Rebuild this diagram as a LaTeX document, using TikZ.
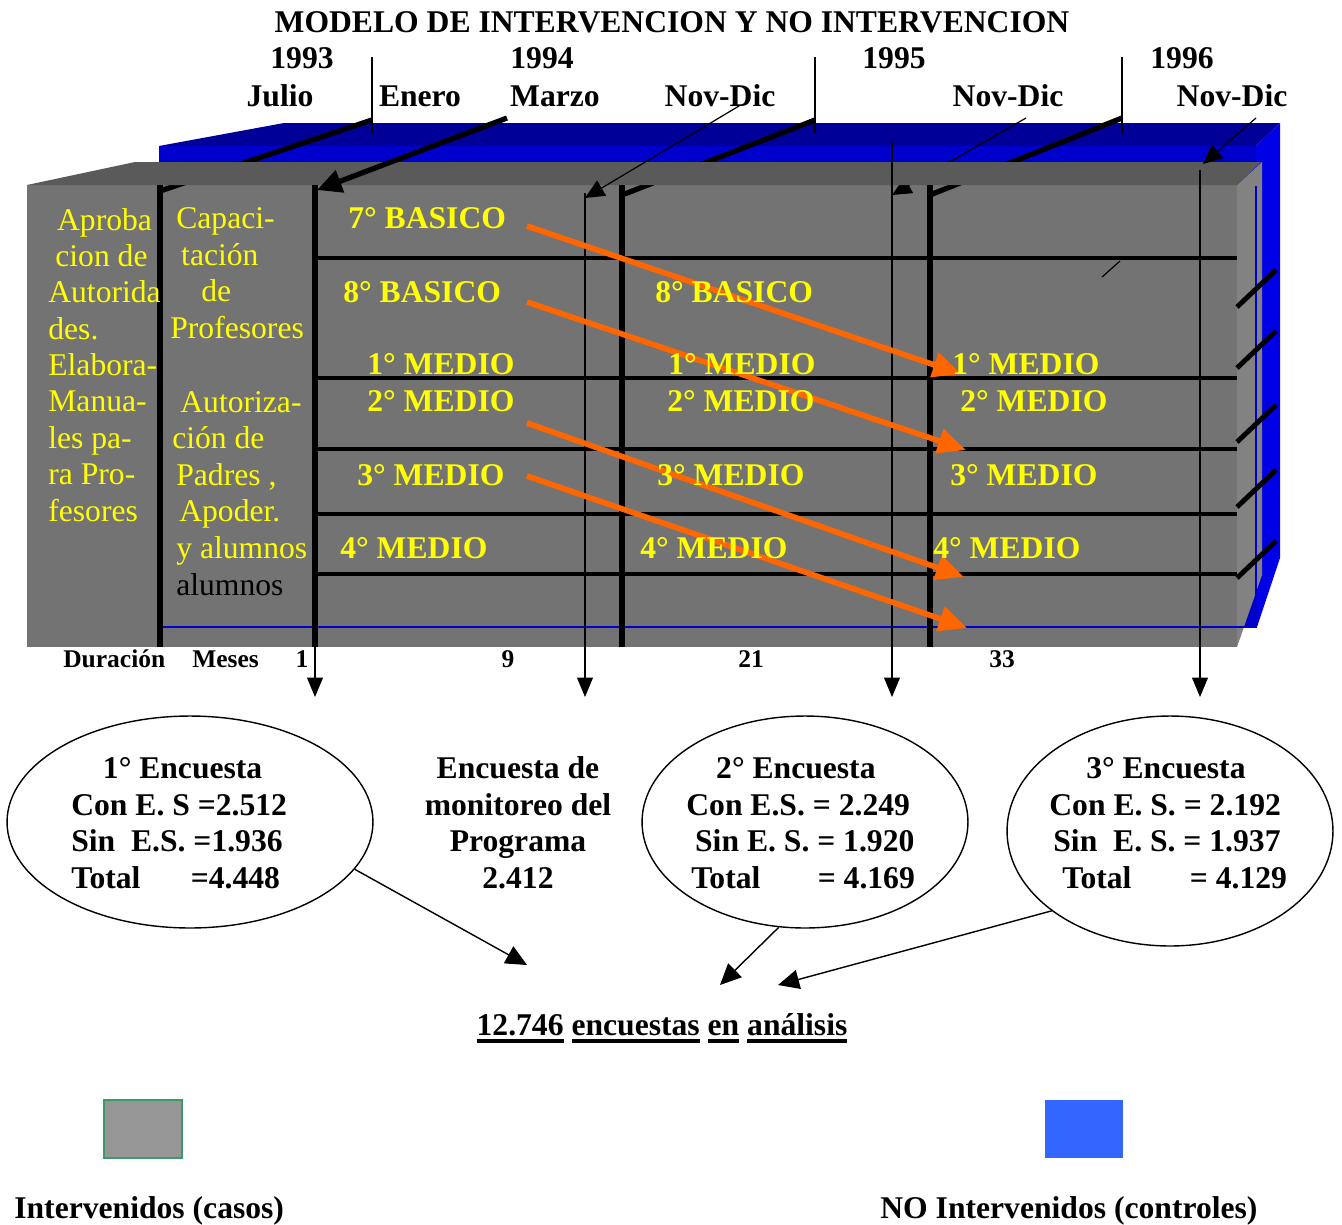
\documentclass[tikz,border=0pt]{standalone}
\usepackage{fontspec}
\setmainfont{Liberation Serif}
\usetikzlibrary{arrows.meta,shapes.geometric,positioning}
\definecolor{grisfrente}{HTML}{737373}
\definecolor{gristecho}{HTML}{5A5A5A}
\definecolor{grislado}{HTML}{828282}
\definecolor{azuloscuro}{HTML}{000099}
\definecolor{azulfrente}{HTML}{0000CC}
\definecolor{azullado}{HTML}{0000E6}
\definecolor{amarillo}{HTML}{FFFF00}
\definecolor{naranjo}{HTML}{FF6600}
\definecolor{grisleyenda}{HTML}{969696}
\definecolor{verdeborde}{HTML}{3C9A64}
\definecolor{azulleyenda}{HTML}{3366FF}
\newcommand{\letragrande}{\fontsize{18}{20.7}\selectfont}
\newcommand{\letrachica}{\fontsize{14.5}{17}\selectfont}
\newcommand{\subrayar}[1]{\setbox0=\hbox{#1}\rlap{\rule[-4.6pt]{\wd0}{2.3pt}}\box0\relax}

\begin{document}
\begin{tikzpicture}[x=0.02cm, y=-0.02cm,
    font=\letragrande\bfseries,
    lbl/.style={inner sep=0pt, anchor=base},
    curso/.style={inner sep=0pt, anchor=base west, text=amarillo},
    columna/.style={inner sep=0pt, anchor=base west, align=left, text=amarillo, font=\letragrande\mdseries},
    encuesta/.style={ellipse, draw, line width=0.8pt, inner sep=0pt},
    datos/.style={inner sep=0pt, anchor=base west, align=left},
    divisor/.style={line width=3pt},
    fila/.style={line width=2.8pt},
    hito/.style={line width=0.7pt},
    traslado/.style={naranjo, line width=3.2pt, -{Triangle[length=16pt,width=14pt]}},
    caida/.style={line width=0.7pt, -{Triangle[length=11pt,width=9pt]}},
    fecha/.style={line width=0.7pt, -{Triangle[length=11pt,width=10pt]}},
    suma/.style={line width=0.8pt, -{Triangle[length=12pt,width=11pt]}}
  ]
    \useasboundingbox (0,0) rectangle (1342,1224);
    % Caja de controles (azul, al fondo)
    \fill[azuloscuro] (159,146) -- (284,123) -- (1280,123) -- (1256,146) -- cycle;
    \fill[azulfrente] (159,146) rectangle (1256,627);
    \fill[azullado] (1256,146) -- (1280,123) -- (1280,558) -- (1257,627) -- cycle;
    % Caja de casos (gris)
    \fill[grisfrente] (27,185) rectangle (1237,647);
    \fill[grislado] (1237,185) -- (1262,162) -- (1262,575) -- (1237,647) -- cycle;
    % Marcas del calendario
    \coordinate (enero) at (372,120);   \coordinate (pieEnero) at (160,191);
    \coordinate (anio95) at (815,120);  \coordinate (pie95) at (622,195);
    \coordinate (anio96) at (1122,118); \coordinate (pie96) at (930,195);
    \coordinate (nov95) at (1026,118);  \coordinate (cae95) at (892,195);
    \draw[divisor] (enero) -- (pieEnero);
    \draw[divisor] (anio95) -- (pie95);
    \draw[divisor] (anio96) -- (pie96);
    \draw[fecha] (nov95) -- (cae95);
    % Techo gris
    \fill[gristecho] (27,185) -- (135,162) -- (1261,162) -- (1237,185) -- cycle;
    \draw[azulfrente, line width=1.3pt] (159,627) -- (1256,627) -- (1256,186);
    % Grilla de cursos
    \foreach \x in {160,315,622,930}
      \draw[divisor] (\x,185) -- (\x,647);
    \foreach \y in {258,378,449,514,574}
      \draw[fila] (315,\y) -- (1237,\y);
    \foreach \y in {307,368,442,507,578}
      \draw[fila] (1237,\y) -- ++(39,-37);
    \draw[hito] (1102,277) -- (1120,261);
    % Rayas de los anios
    \coordinate (rEnero) at (372,57);  \coordinate (rEneroB) at (372,133);
    \coordinate (r95) at (815,57);     \coordinate (r95B) at (815,133);
    \coordinate (r96) at (1122,57);    \coordinate (r96B) at (1122,133);
    \draw[hito] (rEnero) -- (rEneroB);
    \draw[hito] (r95) -- (r95B);
    \draw[hito] (r96) -- (r96B);
    % Flechas de fechas
    \coordinate (marzo) at (507,118);  \coordinate (llegaMarzo) at (317,190);
    \coordinate (nov94) at (739,106);  \coordinate (cae94) at (585,198);
    \coordinate (nov96) at (1256,118); \coordinate (cae96) at (1203,164);
    \draw[divisor, -{Triangle[length=14pt,width=13pt]}] (marzo) -- (llegaMarzo);
    \draw[fecha] (nov94) -- (cae94);
    \draw[fecha] (nov96) -- (cae96);
    % Flechas hacia las encuestas
    \coordinate (e1) at (315,645);   \coordinate (e1b) at (315,697);
    \coordinate (e2) at (585,193);   \coordinate (e2b) at (585,697);
    \coordinate (e3) at (892,142);   \coordinate (e3b) at (892,697);
    \coordinate (e4) at (1200,170);  \coordinate (e4b) at (1200,697);
    \draw[caida] (e1) -- (e1b);
    \draw[caida] (e2) -- (e2b);
    \draw[caida] (e3) -- (e3b);
    \draw[caida] (e4) -- (e4b);
    % Traslado de cohortes
    \coordinate (sale7) at (527,226); \coordinate (llega7) at (961,374);
    \coordinate (sale8) at (527,302); \coordinate (llega8) at (966,450);
    \coordinate (sale2) at (527,423); \coordinate (llega2) at (964,577);
    \coordinate (sale3) at (527,476); \coordinate (llega3) at (967,628);
    \draw[traslado] (sale7) -- (llega7);
    \draw[traslado] (sale8) -- (llega8);
    \draw[traslado] (sale2) -- (llega2);
    \draw[traslado] (sale3) -- (llega3);
    % Titulo y calendario
    \node[lbl] (titulo) at (672,32) {MODELO DE INTERVENCION Y NO INTERVENCION};
    \node[lbl] (a93) at (302,68) {1993};
    \node[lbl] (a94) at (542,68) {1994};
    \node[lbl] (a95) at (894,68) {1995};
    \node[lbl] (a96) at (1182,68) {1996};
    \node[lbl] (julio) at (280,106) {Julio};
    \node[lbl] (mEnero) at (420,106) {Enero};
    \node[lbl] (mMarzo) at (555,106) {Marzo};
    \node[lbl] (mNov94) at (720,106) {Nov-Dic};
    \node[lbl] (mNov95) at (1008,106) {Nov-Dic};
    \node[lbl] (mNov96) at (1232,106) {Nov-Dic};
    % Columnas de actividades (base = ultima linea)
    \node[columna] (aprob) at (48,521) {\hspace*{5pt}Aproba\\\hspace*{4pt}cion de\\Autorida\\des.\\Elabora-\\Manua-\\les pa-\\ra Pro-\\fesores};
    \node[columna] (capac) at (170,338) {\hspace*{3.4pt}Capaci-\\\hspace*{6.2pt}tación\\\hspace*{17.6pt}de\\Profesores};
    \node[columna] (autor) at (170,558) {\hspace*{5.7pt}Autoriza-\\\hspace*{1.1pt}ción de\\\hspace*{3.4pt}Padres ,\\\hspace*{5.1pt}Apoder.\\\hspace*{3.4pt}y alumnos};
    \node[columna, text=black] (alum) at (176,595) {alumnos};
    % Cursos
    \node[curso] (b7a) at (348,228) {7° BASICO};
    \node[curso] (b8a) at (343,302) {8° BASICO};
    \node[curso] (m1a) at (367,374) {1° MEDIO};
    \node[curso] (m2a) at (367,411) {2° MEDIO};
    \node[curso] (m3a) at (357,485) {3° MEDIO};
    \node[curso] (m4a) at (340,558) {4° MEDIO};
    \node[curso] (b8b) at (655,302) {8° BASICO};
    \node[curso] (m1b) at (668,374) {1° MEDIO};
    \node[curso] (m2b) at (667,411) {2° MEDIO};
    \node[curso] (m3b) at (657,485) {3° MEDIO};
    \node[curso] (m4b) at (640,558) {4° MEDIO};
    \node[curso] (m1c) at (952,374) {1° MEDIO};
    \node[curso] (m2c) at (960,411) {2° MEDIO};
    \node[curso] (m3c) at (950,485) {3° MEDIO};
    \node[curso] (m4c) at (933,558) {4° MEDIO};
    % Duracion
    \node[lbl, anchor=base west, font=\letrachica\bfseries] (durac) at (63,667) {Duración};
    \node[lbl, anchor=base west, font=\letrachica\bfseries] (meses) at (192,667) {Meses};
    \node[lbl, font=\letrachica\bfseries] (mes1) at (302,667) {1};
    \node[lbl, font=\letrachica\bfseries] (mes9) at (508,667) {9};
    \node[lbl, font=\letrachica\bfseries] (mes21) at (751,667) {21};
    \node[lbl, font=\letrachica\bfseries] (mes33) at (1002,667) {33};
    % Encuestas
    \node[encuesta, minimum width=7.32cm, minimum height=4.24cm] (enc1) at (190,822) {};
    \node[encuesta, minimum width=6.52cm, minimum height=4.24cm] (enc2) at (805,822) {};
    \node[encuesta, minimum width=6.52cm, minimum height=4.6cm] (enc3) at (1170,831) {};
    \node[datos] (dat1) at (71,888) {\hspace*{18pt}1° Encuesta\\Con E. S =2.512\\Sin\ \ E.S. =1.936\\\makebox[68pt][l]{Total}=4.448};
    \node[lbl, align=center] (monitoreo) at (518,888) {Encuesta de\\monitoreo del\\Programa\\2.412};
    \node[datos] (dat2) at (686,888) {\hspace*{17pt}2° Encuesta\\Con E.S. = 2.249\\\hspace*{5pt}Sin E. S. = 1.920\\\hspace*{2.8pt}\makebox[72pt][l]{Total}= 4.169};
    \node[datos] (dat3) at (1049,888) {\hspace*{21pt}3° Encuesta\\Con E. S. = 2.192\\\hspace*{2.3pt}Sin\ \ E. S. = 1.937\\\hspace*{7.4pt}\makebox[72.6pt][l]{Total}= 4.129};
    % Total de encuestas
    \node[lbl] (total) at (662,1035) {\subrayar{12.746} \subrayar{encuestas} \subrayar{en} \subrayar{análisis}};
    \coordinate (junta1) at (527,965);
    \coordinate (junta2) at (720,985);
    \coordinate (junta3) at (778,985);
    \draw[suma] (enc1.-16) -- (junta1);
    \draw[suma] (enc2.-104) -- (junta2);
    \draw[suma] (enc3.-146) -- (junta3);
    % Leyenda
    \node[draw=verdeborde, fill=grisleyenda, line width=1pt, minimum width=1.56cm, minimum height=1.16cm, inner sep=0pt] (casos) at (143,1129) {};
    \node[fill=azulleyenda, minimum width=1.56cm, minimum height=1.16cm, inner sep=0pt] (controles) at (1084,1129) {};
    \node[lbl, anchor=base west] (txtCasos) at (14,1218) {Intervenidos (casos)};
    \node[lbl, anchor=base west] (txtControles) at (880,1218) {NO Intervenidos (controles)};
  \end{tikzpicture}
\end{document}
